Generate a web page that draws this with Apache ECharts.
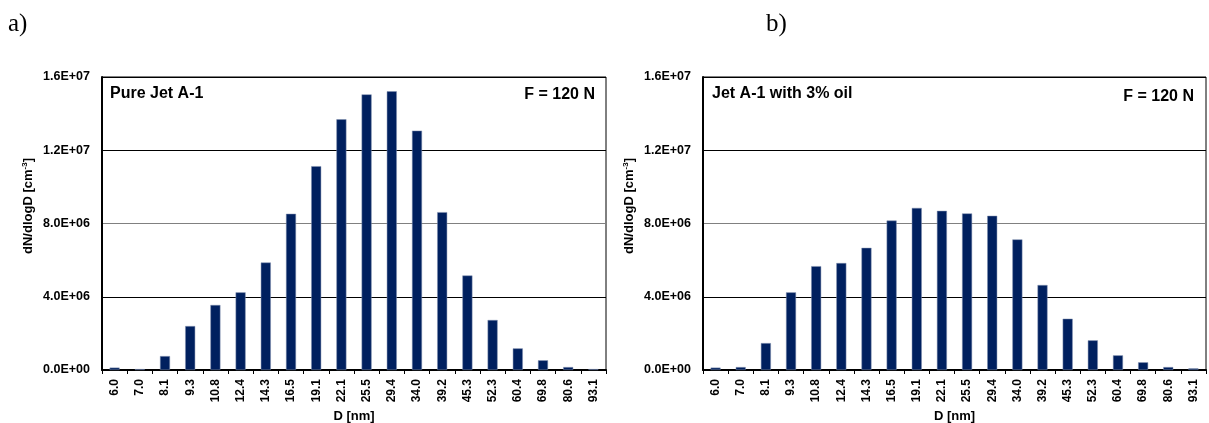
<!DOCTYPE html>
<html>
<head>
<meta charset="utf-8">
<script src="https://cdn.jsdelivr.net/npm/echarts@6/dist/echarts.min.js"></script>
<style>
html,body{margin:0;padding:0;background:#fff;}
#chart{width:1209px;height:423px;}
</style>
</head>
<body>
<div id="chart"></div>
<script>
const categories = ['6.0','7.0','8.1','9.3','10.8','12.4','14.3','16.5','19.1','22.1','25.5','29.4','34.0','39.2','45.3','52.3','60.4','69.8','80.6','93.1'];
const pureJet = [0.13e6,0.05e6,0.76e6,2.40e6,3.55e6,4.24e6,5.87e6,8.53e6,11.13e6,13.69e6,15.05e6,15.22e6,13.07e6,8.62e6,5.16e6,2.73e6,1.18e6,0.53e6,0.16e6,0.05e6];
const jetOil = [0.13e6,0.16e6,1.47e6,4.24e6,5.67e6,5.84e6,6.67e6,8.16e6,8.85e6,8.69e6,8.55e6,8.42e6,7.13e6,4.64e6,2.80e6,1.62e6,0.80e6,0.42e6,0.16e6,0.09e6];
const yTicks = {min:0, max:1.6e7, interval:4e6};

const FONT = '"Liberation Sans", Arial, sans-serif';
const SERIF = '"Liberation Serif", "Times New Roman", serif';
const BAR = '#00205f';

function sci(v){
  if (v === 0) return '0.0E+00';
  const e = Math.floor(Math.log10(Math.abs(v)) + 1e-9);
  const m = v / Math.pow(10, e);
  return m.toFixed(1) + 'E+' + String(e).padStart(2,'0');
}

function xAxis(idx){
  return {
    type:'category', gridIndex:idx, data:categories,
    boundaryGap:true,
    axisLine:{lineStyle:{color:'#000', width:2}},
    axisTick:{show:true, alignWithLabel:false, length:4, lineStyle:{color:'#000'}},
    axisLabel:{rotate:90, interval:0, color:'#000', fontFamily:FONT, fontWeight:'bold', fontSize:12, margin:9},
    name:'D [nm]', nameLocation:'middle', nameGap:38,
    nameTextStyle:{color:'#000', fontFamily:FONT, fontWeight:'bold', fontSize:13}
  };
}
function yAxis(idx){
  return {
    type:'value', gridIndex:idx, min:yTicks.min, max:yTicks.max, interval:yTicks.interval,
    axisLine:{show:true, lineStyle:{color:'#000', width:2}},
    axisTick:{show:false},
    axisLabel:{formatter:sci, color:'#000', fontFamily:FONT, fontWeight:'bold', fontSize:12.5, margin:12},
    splitLine:{show:true, lineStyle:{color:['#000','#000','#808080','#000','#000'], width:1}}
  };
}
function series(idx, data){
  return {type:'bar', xAxisIndex:idx, yAxisIndex:idx, data:data, barWidth:10,
    itemStyle:{color:BAR, borderColor:'#8090b0', borderWidth:0.5}, animation:false};
}
function txt(text, x, y, align){
  return {type:'text', x:x, y:y,
    style:{text:text, fill:'#000', font:'bold 16px ' + FONT, align:align||'left', verticalAlign:'middle'}};
}
function yTitle(x, y){
  return {type:'text', x:x, y:y, rotation:Math.PI/2,
    style:{text:'{m|dN/dlogD [cm}{s|-3}{m|]}', align:'center', verticalAlign:'middle',
      rich:{
        m:{fill:'#000', fontFamily:FONT, fontWeight:'bold', fontSize:13},
        s:{fill:'#000', fontFamily:FONT, fontWeight:'bold', fontSize:8, verticalAlign:'top', padding:[0,0,7,0]}
      }}};
}

const chart = echarts.init(document.getElementById('chart'));
chart.setOption({
  animation:false,
  backgroundColor:'#fff',
  grid:[
    {left:102, top:77, width:504, height:293, show:true, borderColor:'#000', borderWidth:1, containLabel:false, outerBoundsMode:'none'},
    {left:703, top:77, width:503, height:293, show:true, borderColor:'#000', borderWidth:1, containLabel:false, outerBoundsMode:'none'}
  ],
  xAxis:[xAxis(0), xAxis(1)],
  yAxis:[yAxis(0), yAxis(1)],
  series:[series(0, pureJet), series(1, jetOil)],
  graphic:[
    {type:'text', x:8, y:24, style:{text:'a)', fill:'#000', font:'25px ' + SERIF, verticalAlign:'middle'}},
    {type:'text', x:766, y:24, style:{text:'b)', fill:'#000', font:'25px ' + SERIF, verticalAlign:'middle'}},
    yTitle(28, 206),
    yTitle(629, 206),
    txt('Pure Jet A-1', 110, 94),
    txt('F = 120 N', 595, 95, 'right'),
    txt('Jet A-1 with 3% oil', 712, 94),
    txt('F = 120 N', 1194, 97, 'right')
  ]
});
</script>
</body>
</html>
